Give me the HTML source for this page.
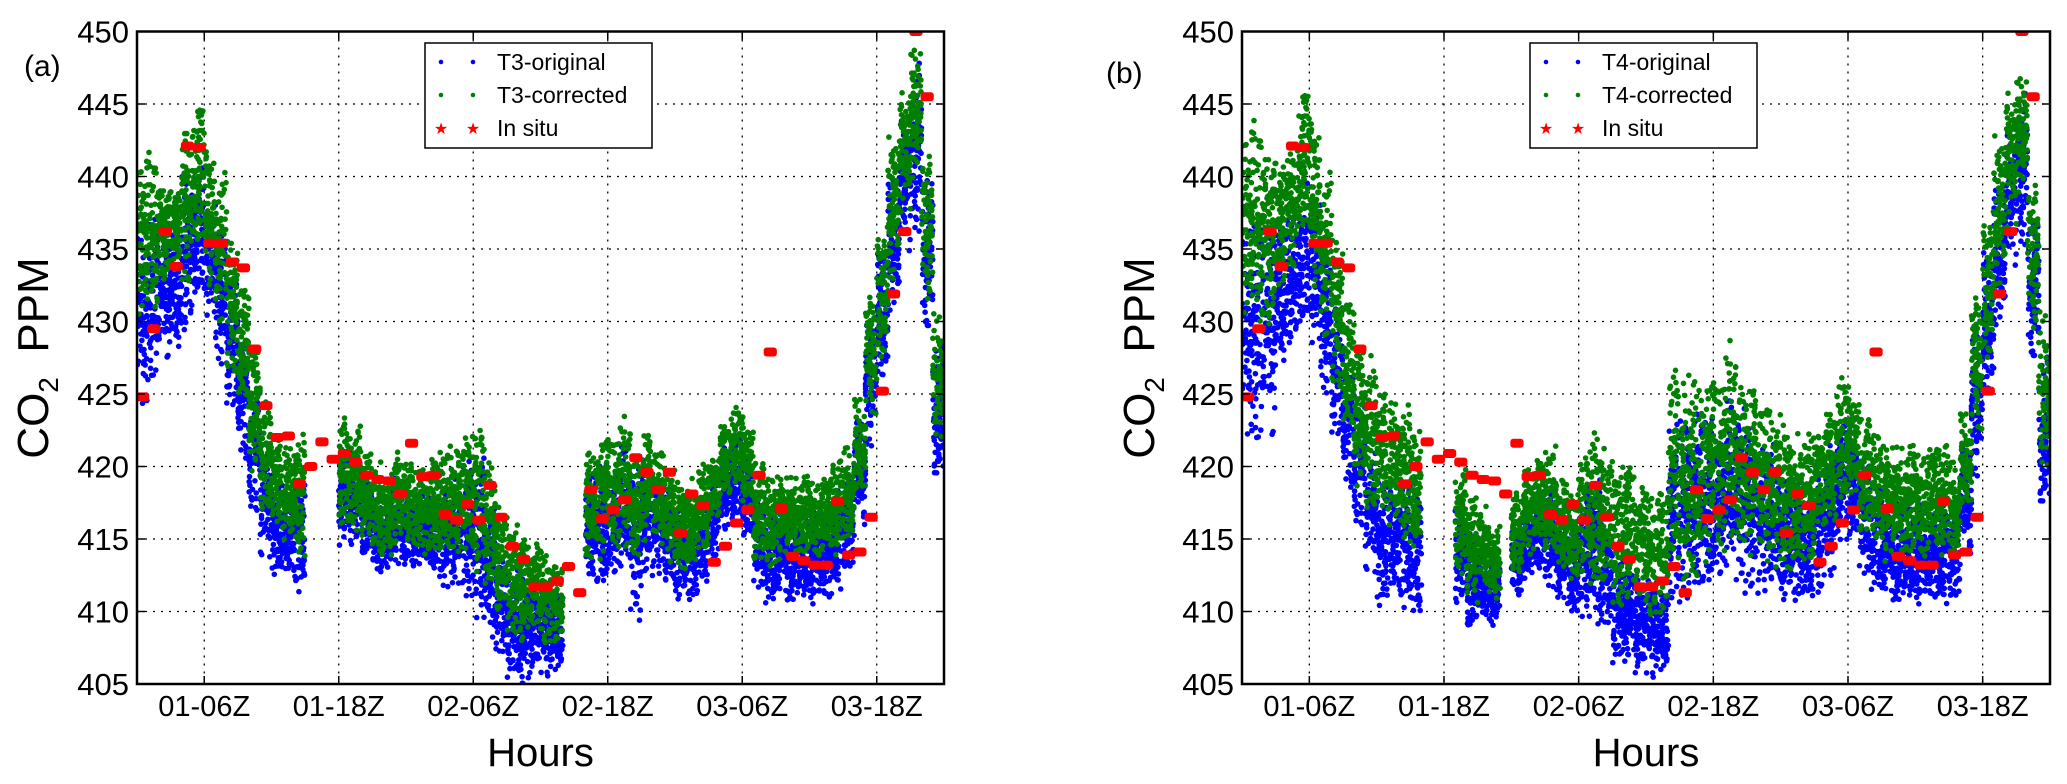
<!DOCTYPE html>
<html><head><meta charset="utf-8"><style>
html,body{margin:0;padding:0;background:#fff;}
svg{display:block;font-family:"Liberation Sans","DejaVu Sans",sans-serif;}
</style></head><body>
<svg id="chart" xmlns="http://www.w3.org/2000/svg" width="2067" height="784" viewBox="0 0 2067 784"></svg>
<script>
// ---- data (hourly bins, hours since 01-00Z) ----
const xTickLabels = ["01-06Z","01-18Z","02-06Z","02-18Z","03-06Z","03-18Z"];
const xTickHours = [6,18,30,42,54,66];
const yTicks = [405,410,415,420,425,430,435,440,445,450];
// panel (a) T3
const t3CorrLo = [430,431,433,434,433,435,433,430,427,424,420,417,416,415,414,null,null,null,416,416,415,414,414,415,415,414,414,414,414,414,413,412,410,409,408,409,408,408,null,null,414,414,415,415,414,415,415,414,413,413,414,416,418,419,417,414,413,414,414,414,414,414,414,415,418,424,428,433,438,440,432,422];
const t3CorrHi = [441,441,440,439,443,445,442,440,435,432,428,424,422,421,422,null,null,null,423,423,421,420,420,421,420,420,420,421,421,422,423,420,417,416,415,415,414,413,null,null,421,422,422,423,421,422,421,420,419,419,420,421,423,424,423,420,419,419,419,419,419,419,420,421,425,432,436,442,446,449,442,430];
const t3OrigLo = [425,427,428,428,430,432,430,427,424,421,417,414,413,413,412,null,null,null,415,415,414,413,413,413,413,413,413,412,412,411,410,409,407,406,405,406,406,406,null,null,412,412,413,413,410,413,413,412,411,411,412,414,416,416,415,412,411,411,411,411,411,411,412,413,416,422,426,430,435,437,429,419];
const t3OrigHi = [437,437,436,436,440,441,438,437,433,429,425,421,419,418,419,null,null,null,421,421,419,418,418,419,418,418,418,418,419,420,420,417,414,413,412,412,411,411,null,null,419,420,420,421,419,420,419,418,417,417,418,419,421,422,421,418,417,417,417,417,417,417,418,419,423,430,434,440,444,447,440,428];
// panel (b) T4
const t4CorrLo = [430,430,430,432,434,436,433,429,426,422,419,417,417,416,415,414,null,null,null,413,411,412,411,null,413,414,415,414,413,412,413,412,412,411,411,411,410,410,413,413,413,414,415,416,415,414,414,414,413,413,413,415,416,418,418,416,415,414,414,414,414,414,414,414,417,423,428,432,437,439,430,420];
const t4CorrHi = [443,443,443,441,442,446,444,440,435,431,428,427,425,424,424,423,null,null,null,420,418,417,416,null,418,420,420,421,419,418,421,422,421,420,420,419,418,418,426,426,426,426,426,428,426,425,424,424,423,422,422,423,424,426,425,423,422,421,421,421,421,421,421,420,424,432,437,442,446,447,440,430];
const t4OrigLo = [423,423,423,427,429,430,428,425,422,419,416,413,411,412,411,410,null,null,null,411,409,410,409,null,411,412,413,412,411,410,410,410,409,407,407,406,406,406,411,411,411,412,413,413,412,412,412,412,411,411,411,412,413,415,415,413,412,411,411,411,411,411,411,411,414,420,425,429,434,436,427,417];
const t4OrigHi = [437,437,437,436,437,440,438,435,431,427,424,421,419,418,419,418,null,null,null,417,415,414,414,null,416,417,418,418,416,415,418,419,416,414,413,412,412,411,423,423,423,423,423,424,423,422,421,421,419,419,417,420,421,423,422,420,419,417,417,417,417,417,417,417,421,429,434,439,443,445,437,427];
// in situ hourly values (same for both panels)
const inSituHours = [0,1,2,3,4,5,6,7,8,9,10,11,12,13,14,15,16,17,18,19,20,21,22,23,24,25,26,27,28,29,30,31,32,33,34,35,36,37,38,39,40,41,42,43,44,45,46,47,48,49,50,51,52,53,54,55,56,57,58,59,60,61,62,63,64,65,66,67,68,69,70];
const inSituValues = [424.8,429.5,436.2,433.8,442.1,442.0,435.4,435.4,434.1,433.7,428.1,424.2,422.0,422.1,418.8,420.0,421.7,420.5,420.9,420.3,419.4,419.1,419.0,418.1,421.6,419.3,419.4,416.7,416.3,417.4,416.3,418.7,416.5,414.5,413.6,411.7,411.7,412.1,413.1,411.3,418.4,416.4,417.0,417.7,420.6,419.6,418.4,419.6,415.4,418.1,417.3,413.4,414.5,416.1,417.0,419.4,427.9,417.1,413.8,413.5,413.2,413.2,417.6,413.9,414.1,416.5,425.2,431.9,436.2,450.0,445.5,430.3,423.9];

const NS="http://www.w3.org/2000/svg";
const svg=document.getElementById('chart');
function mk(tag,attrs,parent){const e=document.createElementNS(NS,tag);for(const k in attrs)e.setAttribute(k,attrs[k]);(parent||svg).appendChild(e);return e;}
function frac(v){return v-Math.floor(v);}

function drawPanel(cfg){
  const L=cfg.left,R=cfg.right,T=31.5,B=684;
  const xs=h=>L+(h/72)*(R-L);
  const ys=v=>T+(450-v)/45*(B-T);
  const g=mk('g',{});
  
  
  const defs=mk('clipPath',{id:cfg.name+'-clip'},g);
  mk('rect',{x:L,y:T,width:R-L,height:B-T},defs);
  yTicks.forEach(v=>{const l=mk('line',{x1:L,x2:R,y1:ys(v),y2:ys(v),stroke:'#000','stroke-width':1.3,'stroke-dasharray':'2,6'},g);
    });
  xTickHours.forEach(h=>{const l=mk('line',{x1:xs(h),x2:xs(h),y1:T,y2:B,stroke:'#000','stroke-width':1.3,'stroke-dasharray':'2,6'},g);
    });
  const dots=mk('g',{'clip-path':'url(#'+cfg.name+'-clip)'},g);
  function band(lo,hi,color,n,nm,seed){
    const sg=mk('g',{fill:color},dots);
    
    
    for(let i=0;i<lo.length;i++){
      if(lo[i]==null)continue;
      for(let k=0;k<n;k++){
        const m=k*7+i*131+seed;
        const fx=frac(Math.sin(m*12.9898)*43758.5453);
        const a=frac(Math.sin(m*78.233+1.1)*24634.6345);
        const b=frac(Math.sin(m*39.425+2.7)*14375.2412);
        const fy=(a+b)/2;
        const v=lo[i]+(hi[i]-lo[i])*(fy*1.2-0.1);
        mk('circle',{cx:xs(i+fx).toFixed(1),cy:ys(v).toFixed(1),r:2.8},sg);
      }
    }
  }
  band(cfg.origLo,cfg.origHi,'#0000ff',75,'original-series',3);
  band(cfg.corrLo,cfg.corrHi,'#007f00',75,'corrected-series',11);
  const rg=mk('g',{fill:'#ff0000'},dots);
  
  
  inSituHours.forEach((h,i)=>{
    const r=mk('rect',{x:xs(h)-1,y:ys(inSituValues[i])-4.5,width:xs(1)-xs(0)+2,height:9,rx:3},rg);
    
    
  });
  const fr=mk('rect',{x:L,y:T,width:R-L,height:B-T,fill:'none',stroke:'#000','stroke-width':2.5},g);
  
  yTicks.forEach(v=>{
    mk('line',{x1:L,x2:L+8,y1:ys(v),y2:ys(v),stroke:'#000','stroke-width':1.5},g);
    mk('line',{x1:R,x2:R-8,y1:ys(v),y2:ys(v),stroke:'#000','stroke-width':1.5},g);
    const t=mk('text',{x:L-8,y:ys(v)+11,'text-anchor':'end','font-size':31},g);
    t.textContent=v;
    
  });
  xTickHours.forEach((h,i)=>{
    mk('line',{x1:xs(h),x2:xs(h),y1:B,y2:B-8,stroke:'#000','stroke-width':1.5},g);
    mk('line',{x1:xs(h),x2:xs(h),y1:T,y2:T+8,stroke:'#000','stroke-width':1.5},g);
    const t=mk('text',{x:xs(h),y:716,'text-anchor':'middle','font-size':29},g);
    t.textContent=xTickLabels[i];
    
  });
  const xt=mk('text',{x:(L+R)/2,y:766,'text-anchor':'middle','font-size':40},g);
  xt.textContent='Hours';
  
  const yt=mk('text',{transform:'translate('+(cfg.ytx)+',358) rotate(-90)','text-anchor':'middle','font-size':44},g);
  
  yt.innerHTML='CO<tspan font-size="28" dy="10">2</tspan><tspan dy="-10" xml:space="preserve">  PPM</tspan>';
  const pl=mk('text',{x:cfg.plx,y:cfg.ply,'font-size':30},g);
  pl.textContent=cfg.label;
  
  const lx=L+288,ly=43;
  const lg=mk('g',{},g);
  
  mk('rect',{x:lx,y:ly,width:227,height:105,fill:'#fff',stroke:'#000','stroke-width':1.5},lg);
  const ents=[[cfg.series+'-original','#0000ff','dot'],[cfg.series+'-corrected','#007f00','dot'],['In situ','#ff0000','star']];
  ents.forEach((e,i)=>{
    const yy=ly+19+i*33;
    const eg=mk('g',{},lg);
    
    [16,48].forEach(dx=>{
      if(e[2]=='dot')mk('circle',{cx:lx+dx,cy:yy,r:2.3,fill:e[1]},eg);
      else{const s=mk('text',{x:lx+dx,y:yy+6,'text-anchor':'middle','font-size':16,fill:e[1]},eg);s.textContent='★';}
    });
    const t=mk('text',{x:lx+72,y:yy+8,'font-size':23},eg);
    t.textContent=e[0];
  });
}
drawPanel({name:'panel-a',left:137,right:944,series:'T3',label:'(a)',plx:24,ply:76,ytx:48,
  corrLo:t3CorrLo,corrHi:t3CorrHi,origLo:t3OrigLo,origHi:t3OrigHi});
drawPanel({name:'panel-b',left:1242,right:2050,series:'T4',label:'(b)',plx:1106,ply:83,ytx:1154,
  corrLo:t4CorrLo,corrHi:t4CorrHi,origLo:t4OrigLo,origHi:t4OrigHi});
</script>
</body></html>
